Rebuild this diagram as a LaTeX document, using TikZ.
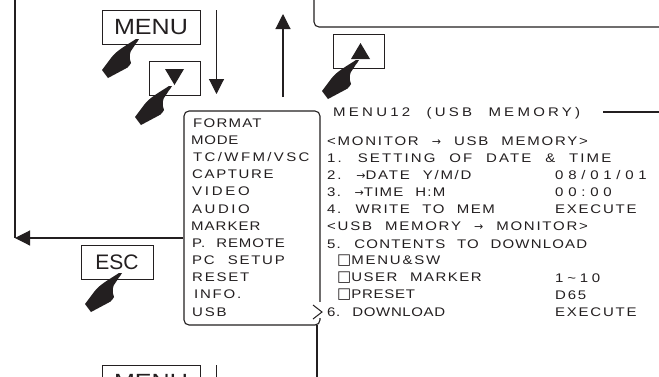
\documentclass[tikz,border=0pt]{standalone}
\usepackage{fontspec}
\setmainfont{Liberation Sans}
\newfontfamily\mf[FakeStretch=1.2,LetterSpace=14,WordSpace=2.2]{Liberation Sans}
\newfontfamily\kf[FakeStretch=1.14]{Liberation Sans}
\newfontfamily\symf{DejaVu Sans}
\definecolor{ink}{HTML}{231F20}
\newcommand{\handat}[1]{\fill[ink,shift={(#1)}] (0,0) .. controls (-2,4) and (-5,6) .. (-6,9) .. controls (-10,13) and (-10,19) .. (-8,24) .. controls (-10,28) and (-13,30) .. (-16,31) -- (-31,39) -- (-37,31) -- (-28,19) .. controls (-22,11) and (-12,6) .. (-3,0) -- cycle;}
\newcommand{\boxsq}{{\symf\fontsize{15}{15}\selectfont □}}
\newcommand{\ar}{{\symf\fontsize{11}{13}\selectfont →}}
\newcommand{\tk}[1]{\addfontfeature{LetterSpace=#1}}
\tikzset{
 x=1pt,y=-1pt,
 line/.style={draw=ink,line width=1.1pt},
 flow/.style={line,-{Triangle[length=15pt,width=15pt]}},
 key/.style={draw=ink,line width=1pt,inner sep=0pt,text=ink,font=\kf\fontsize{22}{24}\selectfont},
 tri/.style={fill=ink,inner sep=0pt},
 mtxt/.style={anchor=west,inner sep=0pt,text=ink,font=\mf\fontsize{12.5}{14}\selectfont},
}
\usetikzlibrary{arrows.meta}
\begin{document}
\begin{tikzpicture}
\useasboundingbox (0,0) rectangle (659,376);
\clip (0,0) rectangle (659,376);
\fill[white] (0,0) rectangle (659,376);
% screen above
\coordinate (sa) at (314,-5); \coordinate (sb) at (664,27);
\draw[line,rounded corners=5pt] (sa) |- (sb);
% keys
\node[key,minimum width=98pt,minimum height=34pt] (menu1) at (151,27) {MENU};
\node[key,minimum width=51pt,minimum height=34pt] (down) at (174.5,78) {};
\fill[ink] (165,69) -- (184,69) -- (174.5,85) -- cycle;
\node[key,minimum width=51pt,minimum height=34pt] (up) at (359,51.5) {};
\fill[ink] (351,59) -- (370,59) -- (360.5,43) -- cycle;
\node[key,minimum width=72pt,minimum height=34pt,font=\rmfamily\fontsize{21}{24}\selectfont] (esc) at (117,262.5) {ESC};
\node[key,minimum width=98pt,minimum height=34pt] (menu2) at (151,382) {MENU};
% flow arrows
\coordinate (d1) at (216.5,10); \coordinate (d2) at (216.5,94);
\draw[flow] (d1) -- (d2);
\coordinate (u1) at (283,97); \coordinate (u2) at (283,14);
\draw[flow] (u1) -- (u2);
\coordinate (d3) at (216.5,365); \coordinate (d4) at (216.5,380);
\draw[line] (d3) -- (d4);
% menu panel
\node[draw=ink,line width=1.1pt,rounded corners=5pt,minimum width=136pt,minimum height=214pt,inner sep=0pt] (panel) at (252,218) {};
\coordinate (l0) at (15,-5); \coordinate (l1) at (15,238);
\draw[line] (l0) -- (l1);
\draw[flow,shorten >=0pt] (panel.west |- l1) -- (l1);
\coordinate (p1) at (317,380);
\draw[line] (317,325) -- (p1);
\coordinate (h1) at (603,112); \coordinate (h2) at (659,112);
\draw[line] (h1) -- (h2);
% selection mark
\node[fill=white,inner sep=0pt,minimum width=6pt,minimum height=16pt] (gap) at (320,310) {};
\coordinate (c1) at (313,305); \coordinate (c2) at (322,312); \coordinate (c3) at (313,319);
\draw[ink,line width=1pt] (c1) -- (c2) -- (c3);
% hands
\handat{139,39}
\handat{172,86}
\handat{122,273}
\handat{359,60}
% left menu
\node[mtxt] (a1) at (193,123) {\tk{10}FORMAT};
\node[mtxt] (a2) at (191,140) {\tk{6}MODE};
\node[mtxt] (a3) at (193,157) {\tk{19}TC/WFM/VSC};
\node[mtxt] (a4) at (192,174) {\tk{13}CAPTURE};
\node[mtxt] (a5) at (192,191) {\tk{22}VIDEO};
\node[mtxt] (a6) at (192,209) {\tk{20}AUDIO};
\node[mtxt] (a7) at (191,226) {\tk{8}MARKER};
\node[mtxt] (a8) at (192,243) {\tk{7}P. REMOTE};
\node[mtxt] (a9) at (192,260) {PC SETUP};
\node[mtxt] (a10) at (192,277) {RESET};
\node[mtxt] (a11) at (194,294) {INFO.};
\node[mtxt] (a12) at (192,312) {USB};
% right menu
\node[mtxt] (t0) at (333,113) {\tk{26}MENU12 (USB MEMORY)};
\node[mtxt] (t1) at (327,141) {<MONITOR \ar{} USB MEMORY>};
\node[mtxt] (t2) at (327,158) {\tk{17}1. SETTING OF DATE \& TIME};
\node[mtxt] (t3) at (327,175) {2. \ar DATE Y/M/D};
\node[mtxt] (v3) at (555,175) {\tk{38}08/01/01};
\node[mtxt] (t4) at (327,192) {\tk{10}3. \ar TIME H:M};
\node[mtxt] (v4) at (555,192) {\tk{38}00:00};
\node[mtxt] (t5) at (327,209) {\tk{12}4. WRITE TO MEM};
\node[mtxt] (v5) at (555,209) {EXECUTE};
\node[mtxt] (t6) at (327,226) {<USB MEMORY \ar{} MONITOR>};
\node[mtxt] (t7) at (327,244) {\tk{9.5}5. CONTENTS TO DOWNLOAD};
\node[mtxt] (t8) at (337,261) {\boxsq MENU\&SW};
\node[mtxt] (t9) at (337,278) {\tk{12}\boxsq USER MARKER};
\node[mtxt] (v9) at (555,278) {\tk{30}1\textasciitilde 10};
\node[mtxt] (t10) at (337,295) {\tk{6}\boxsq PRESET};
\node[mtxt] (v10) at (555,295) {D65};
\node[mtxt] (t11) at (327,312) {\tk{5}6. DOWNLOAD};
\node[mtxt] (v11) at (555,312) {EXECUTE};
\end{tikzpicture}
\end{document}
